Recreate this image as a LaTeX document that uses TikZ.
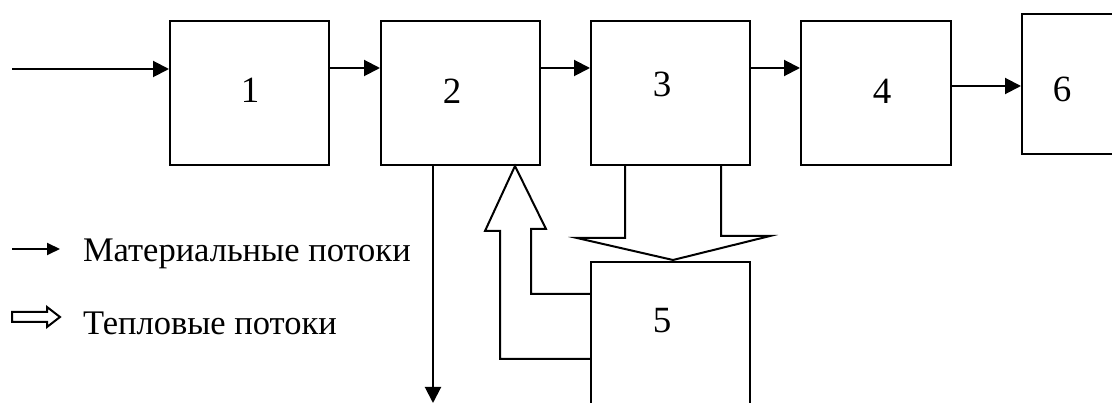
\documentclass[tikz,border=0pt]{standalone}
\usepackage{fontspec}
\setmainfont{Liberation Serif}
\usetikzlibrary{arrows.meta,calc}
\begin{document}
\begin{tikzpicture}[x=1pt,y=-1pt,line width=2pt,
  blk/.style={draw,rectangle,inner sep=0pt,line width=2pt},
  num/.style={inner sep=0pt,anchor=base,font=\fontsize{37}{40}\selectfont},
  leg/.style={inner sep=0pt,anchor=base west,font=\fontsize{34.5}{38}\selectfont},
  mat/.style={-{Triangle[length=16pt,width=16pt]},line width=2pt},
  matsmall/.style={-{Triangle[length=13pt,width=12pt]},line width=2pt},
  heat/.style={line width=2pt,line join=miter}]
\clip (0,0) rectangle (1112,403);
\fill[white] (0,0) rectangle (1112,403);
% blocks
\node[blk,minimum width=159pt,minimum height=144pt] (b1) at (249.5,93) {};
\node[blk,minimum width=159pt,minimum height=144pt] (b2) at (460.5,93) {};
\node[blk,minimum width=159pt,minimum height=144pt] (b3) at (670.5,93) {};
\node[blk,minimum width=150pt,minimum height=144pt] (b4) at (876,93) {};
\node[blk,minimum width=120pt,minimum height=140pt] (b6) at (1082,84) {};
\node[blk,minimum width=159pt,minimum height=160pt] (b5) at (670.5,342) {};
% labels
\node[num] (l1) at (250,103) {1};
\node[num] (l2) at (452,104) {2};
\node[num] (l3) at (662,97) {3};
\node[num] (l4) at (882,104) {4};
\node[num] (l6) at (1062,102) {6};
\node[num] (l5) at (662,333) {5};
% material flows
\coordinate (in) at (12,69);
\coordinate (out) at (433,403);
\draw[mat] (in) -- (in -| b1.west);
\draw[mat] ([yshift=-48pt]b1.north east) -- ([yshift=-48pt]b2.north west);
\draw[mat] ([yshift=-48pt]b2.north east) -- ([yshift=-48pt]b3.north west);
\draw[mat] ([yshift=-48pt]b3.north east) -- ([yshift=-48pt]b4.north west);
\draw[mat] ([yshift=-66pt]b4.north east) -- ([yshift=-66pt]b4.north east -| b6.west);
\draw[mat] (out |- b2.south) -- (out);
% heat flow 5 -> 2
\coordinate (tip2) at ([xshift=135pt]b2.south west);
\draw[heat] ([yshift=-33pt]b5.north west) -- ++(-59,0) -- ++(0,-65) -- ++(15,0)
  -- (tip2) -- ++(-30,65) -- ++(15,0) |- ([yshift=-98pt]b5.north west);
% heat flow 3 -> 5
\coordinate (tip5) at ([xshift=83pt,yshift=1pt]b5.north west);
\draw[heat] ([xshift=35pt]b3.south west) -- ++(0,72) -- ++(-48,0) -- (tip5)
  -- ++(97,-24) -- ++(-49,0) -- ([xshift=131pt]b3.south west);
% legend
\coordinate (m0) at (12,249);
\coordinate (m1) at (60,249);
\draw[matsmall] (m0) -- (m1);
\node[leg] (t1) at (82,262) {Материальные потоки};
\coordinate (h0) at (12,317);
\draw[heat] (h0) ++(0,-5) -- ++(35,0) -- ++(0,-5) -- ++(13,10) -- ++(-13,10) -- ++(0,-5) -- ++(-35,0) -- cycle;
\node[leg] (t2) at (82,335) {Тепловые потоки};
\end{tikzpicture}
\end{document}
